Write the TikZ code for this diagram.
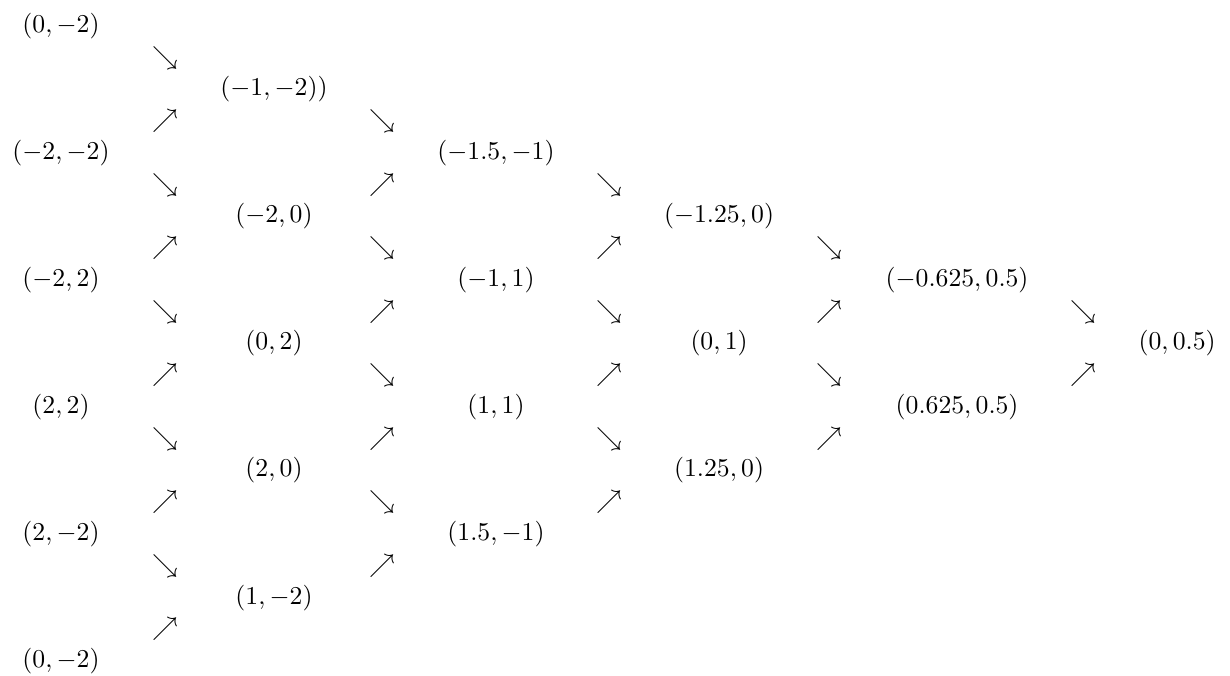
\documentclass[tikz,border=0pt]{standalone}
\usepackage{tikz}
\usepackage{amsmath,amssymb}

\begin{document}
\begin{tikzpicture}[
    x=1cm, y=-0.4342cm,
    pt/.style={inner sep=1pt},
    glyph/.style={inner sep=0pt}
]
\useasboundingbox (0,-0.82) rectangle (16.82,20.44);

% Stage a
\node[pt] (a1) at (0.834,0)  {$(0,-2)$};
\node[pt] (a2) at (0.834,4)  {$(-2,-2)$};
\node[pt] (a3) at (0.834,8)  {$(-2,2)$};
\node[pt] (a4) at (0.834,12) {$(2,2)$};
\node[pt] (a5) at (0.834,16) {$(2,-2)$};
\node[pt] (a6) at (0.834,20) {$(0,-2)$};

\node[glyph] (ab1)  at (2.257,1)  {$\searrow$};
\node[glyph] (ab2)  at (2.257,3)  {$\nearrow$};
\node[glyph] (ab3)  at (2.257,5)  {$\searrow$};
\node[glyph] (ab4)  at (2.257,7)  {$\nearrow$};
\node[glyph] (ab5)  at (2.257,9)  {$\searrow$};
\node[glyph] (ab6)  at (2.257,11) {$\nearrow$};
\node[glyph] (ab7)  at (2.257,13) {$\searrow$};
\node[glyph] (ab8)  at (2.257,15) {$\nearrow$};
\node[glyph] (ab9)  at (2.257,17) {$\searrow$};
\node[glyph] (ab10) at (2.257,19) {$\nearrow$};

% Stage b
\node[pt] (b1) at (3.747,2)  {$(-1,-2))$};
\node[pt] (b2) at (3.747,6)  {$(-2,0)$};
\node[pt] (b3) at (3.747,10) {$(0,2)$};
\node[pt] (b4) at (3.747,14) {$(2,0)$};
\node[pt] (b5) at (3.747,18) {$(1,-2)$};

\node[glyph] (bc1) at (5.224,3)  {$\searrow$};
\node[glyph] (bc2) at (5.224,5)  {$\nearrow$};
\node[glyph] (bc3) at (5.224,7)  {$\searrow$};
\node[glyph] (bc4) at (5.224,9)  {$\nearrow$};
\node[glyph] (bc5) at (5.224,11) {$\searrow$};
\node[glyph] (bc6) at (5.224,13) {$\nearrow$};
\node[glyph] (bc7) at (5.224,15) {$\searrow$};
\node[glyph] (bc8) at (5.224,17) {$\nearrow$};

% Stage c
\node[pt] (c1) at (6.783,4)  {$(-1.5,-1)$};
\node[pt] (c2) at (6.783,8)  {$(-1,1)$};
\node[pt] (c3) at (6.783,12) {$(1,1)$};
\node[pt] (c4) at (6.783,16) {$(1.5,-1)$};

\node[glyph] (cd1) at (8.329,5)  {$\searrow$};
\node[glyph] (cd2) at (8.329,7)  {$\nearrow$};
\node[glyph] (cd3) at (8.329,9)  {$\searrow$};
\node[glyph] (cd4) at (8.329,11) {$\nearrow$};
\node[glyph] (cd5) at (8.329,13) {$\searrow$};
\node[glyph] (cd6) at (8.329,15) {$\nearrow$};

% Stage d
\node[pt] (d1) at (9.833,6)  {$(-1.25,0)$};
\node[pt] (d2) at (9.833,10) {$(0,1)$};
\node[pt] (d3) at (9.833,14) {$(1.25,0)$};

\node[glyph] (de1) at (11.337,7)  {$\searrow$};
\node[glyph] (de2) at (11.337,9)  {$\nearrow$};
\node[glyph] (de3) at (11.337,11) {$\searrow$};
\node[glyph] (de4) at (11.337,13) {$\nearrow$};

% Stage e
\node[pt] (e1) at (13.088,8)  {$(-0.625,0.5)$};
\node[pt] (e2) at (13.088,12) {$(0.625,0.5)$};

\node[glyph] (ef1) at (14.811,9)  {$\searrow$};
\node[glyph] (ef2) at (14.811,11) {$\nearrow$};

% Result
\node[pt] (f) at (16.097,10) {$(0,0.5)$};

\end{tikzpicture}
\end{document}
